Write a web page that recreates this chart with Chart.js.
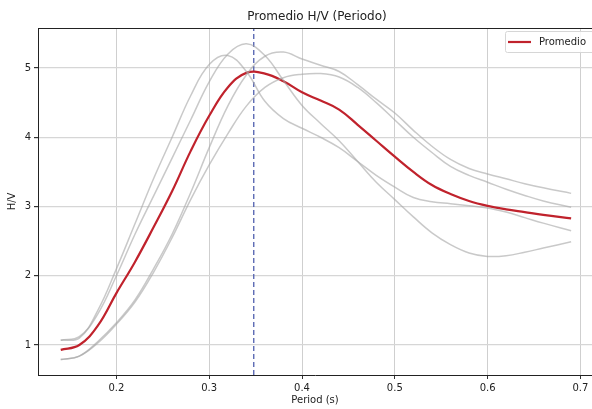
<!DOCTYPE html>
<html>
<head>
<meta charset="utf-8">
<script src="https://cdn.jsdelivr.net/npm/chart.js@4.4.1/dist/chart.umd.min.js"></script>
<style>
  html, body { margin: 0; padding: 0; background: #fff; overflow: hidden; }
  canvas { display: block; }
</style>
</head>
<body>
<canvas id="hvChart" width="592" height="409"></canvas>
<script>
// periods (s) the curves are sampled at
const periods = [0.14,0.16,0.18,0.20,0.22,0.24,0.26,0.28,0.30,0.32,0.34,0.36,0.38,0.40,0.42,0.44,0.46,0.48,0.50,0.52,0.54,0.56,0.58,0.60,0.62,0.64,0.66,0.69];

// single H/V curves (grey)
const curveA = [1.07,1.12,1.45,2.00,2.60,3.15,3.70,4.25,4.80,5.20,5.35,5.18,4.82,4.46,4.20,3.95,3.65,3.35,3.10,2.85,2.62,2.45,2.33,2.28,2.29,2.34,2.40,2.49];
const curveB = [1.07,1.10,1.50,2.10,2.75,3.40,4.00,4.60,5.05,5.18,4.95,4.52,4.27,4.13,4.00,3.85,3.65,3.45,3.28,3.13,3.07,3.04,3.01,2.98,2.92,2.84,2.76,2.65];
const curveC = [0.79,0.84,1.05,1.32,1.65,2.10,2.60,3.20,3.85,4.45,4.90,5.17,5.23,5.13,5.04,4.95,4.76,4.55,4.35,4.10,3.87,3.68,3.55,3.47,3.40,3.33,3.27,3.19];
const curveD = [0.79,0.84,1.03,1.30,1.62,2.05,2.55,3.10,3.60,4.05,4.45,4.72,4.86,4.91,4.92,4.87,4.72,4.50,4.25,4.00,3.78,3.58,3.45,3.35,3.25,3.16,3.08,2.99];

// average curve (red)
const promedio = [0.93,1.00,1.28,1.75,2.20,2.70,3.22,3.80,4.31,4.72,4.93,4.92,4.81,4.65,4.53,4.40,4.18,3.95,3.72,3.50,3.31,3.18,3.08,3.01,2.96,2.92,2.88,2.83];

// period of the peak (dashed line)
const peakPeriod = 0.348;

const xTicks = [0.2,0.3,0.4,0.5,0.6,0.7];
const yTicks = [1,2,3,4,5];

const xMin = 0.1155, xMax = 0.7125;
const yMin = 0.567, yMax = 5.578;

const FONT = '"DejaVu Sans", sans-serif';

function toPoints(ys) {
    return periods.map((p, i) => ({ x: p, y: ys[i] }));
}

const greyCurves = [curveA, curveB, curveC, curveD].map(c => ({
    data: toPoints(c),
    borderColor: 'rgba(165,165,165,0.6)',
    borderWidth: 1.5,
    pointRadius: 0,
    tension: 0.4,
    fill: false
}));

// draws title, top spine and the matplotlib style legend
const decorPlugin = {
    id: 'decor',
    afterDraw(chart) {
        const { ctx, chartArea } = chart;
        ctx.save();
        ctx.strokeStyle = '#222';
        ctx.lineWidth = 1;
        ctx.beginPath();
        ctx.moveTo(chartArea.left, chartArea.top + 0.5);
        ctx.lineTo(chartArea.right, chartArea.top + 0.5);
        ctx.stroke();

        ctx.fillStyle = '#222';
        ctx.font = '12px ' + FONT;
        ctx.textAlign = 'center';
        ctx.textBaseline = 'middle';
        ctx.fillText('Promedio H/V (Periodo)', 317, 17);

        // legend box
        const bx = 505, by = 31, bw = 90, bh = 21;
        ctx.fillStyle = 'rgba(255,255,255,0.85)';
        ctx.strokeStyle = '#d6d6d6';
        ctx.beginPath();
        ctx.roundRect(bx + 0.5, by + 0.5, bw, bh, 2);
        ctx.fill();
        ctx.stroke();
        ctx.strokeStyle = '#c0222c';
        ctx.lineWidth = 2.2;
        ctx.beginPath();
        ctx.moveTo(bx + 3, by + 11);
        ctx.lineTo(bx + 26, by + 11);
        ctx.stroke();
        ctx.fillStyle = '#222';
        ctx.font = '10px ' + FONT;
        ctx.textAlign = 'left';
        ctx.fillText('Promedio', bx + 34, by + 11);
        ctx.restore();
    }
};

const ctx = document.getElementById('hvChart').getContext('2d');
new Chart(ctx, {
    type: 'line',
    data: {
        datasets: [
            ...greyCurves,
            {
                label: 'Promedio',
                data: toPoints(promedio),
                borderColor: '#c0222c',
                borderWidth: 2.2,
                pointRadius: 0,
                tension: 0.4,
                fill: false
            },
            {
                data: [{ x: peakPeriod, y: yMin }, { x: peakPeriod, y: yMax }],
                borderColor: '#4f5fae',
                borderWidth: 1.3,
                borderDash: [5, 3],
                pointRadius: 0,
                fill: false
            }
        ]
    },
    options: {
        responsive: false,
        animation: false,
        devicePixelRatio: 1,
        layout: { padding: { top: 28, left: 0, right: 0, bottom: 0 } },
        plugins: {
            legend: { display: false },
            title: { display: false },
            tooltip: { enabled: false }
        },
        scales: {
            x: {
                type: 'linear',
                min: xMin,
                max: xMax,
                afterBuildTicks: scale => { scale.ticks = xTicks.map(v => ({ value: v })); },
                afterFit: scale => { scale.height = 34; },
                ticks: {
                    font: { family: FONT, size: 10 },
                    color: '#222',
                    padding: 3,
                    callback: v => v.toFixed(1)
                },
                grid: { color: '#cfcfcf', lineWidth: 1, tickLength: 4, tickColor: '#333' },
                border: { color: '#222', width: 1 },
                title: {
                    display: true,
                    text: 'Period (s)',
                    font: { family: FONT, size: 10 },
                    color: '#222',
                    padding: { top: 0, bottom: 3 }
                }
            },
            y: {
                min: yMin,
                max: yMax,
                afterBuildTicks: scale => { scale.ticks = yTicks.map(v => ({ value: v })); },
                afterFit: scale => { scale.width = 38; },
                ticks: {
                    font: { family: FONT, size: 10 },
                    color: '#222',
                    padding: 3,
                    callback: v => String(v)
                },
                grid: { color: '#d6d6d6', lineWidth: 1.2, tickLength: 4, tickColor: '#333' },
                border: { color: '#222', width: 1 },
                title: {
                    display: true,
                    text: 'H/V',
                    font: { family: FONT, size: 10 },
                    color: '#222',
                    padding: { top: 6, bottom: 0 }
                }
            }
        }
    },
    plugins: [decorPlugin]
});
</script>
</body>
</html>
